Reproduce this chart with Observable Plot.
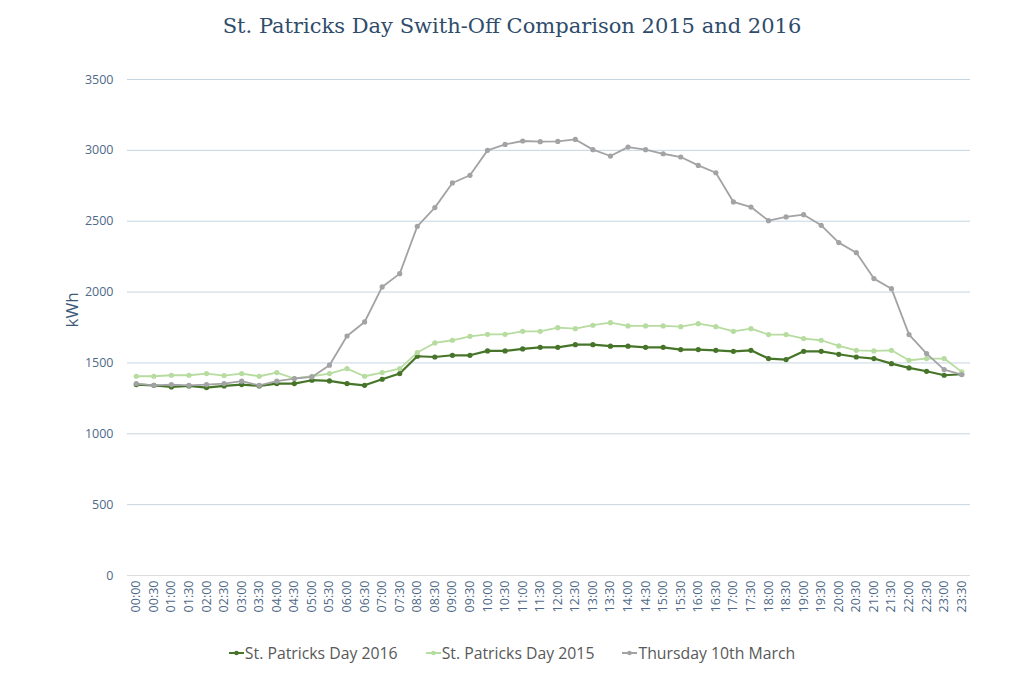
<!DOCTYPE html>
<html>
<head>
<meta charset="utf-8">
<script src="https://cdn.jsdelivr.net/npm/d3@7"></script>
<script src="https://cdn.jsdelivr.net/npm/@observablehq/plot@0.6"></script>
<style>
  body { margin: 0; background: #fff; font-family: "Open Sans", sans-serif; }
  #wrap { width: 1024px; height: 674px; position: relative; }
  #title { height: 52px; line-height: 52px; text-align: center; font-family: "DejaVu Serif", serif; font-size: 21px; color: #2f4c6b; }
  #legend { display: flex; justify-content: center; align-items: center; gap: 28px; font-size: 15.8px; color: #595959; margin-top: 22px; }
  #legend span.item { display: flex; align-items: center; }
  #legend svg { margin-right: 1px; }
</style>
</head>
<body>
<div id="wrap">
  <div id="title">St. Patricks Day Swith-Off Comparison 2015 and 2016</div>
  <div id="chart"></div>
  <div id="legend"></div>
</div>
<script>
const times = ["00:00","00:30","01:00","01:30","02:00","02:30","03:00","03:30","04:00","04:30","05:00","05:30","06:00","06:30","07:00","07:30","08:00","08:30","09:00","09:30","10:00","10:30","11:00","11:30","12:00","12:30","13:00","13:30","14:00","14:30","15:00","15:30","16:00","16:30","17:00","17:30","18:00","18:30","19:00","19:30","20:00","20:30","21:00","21:30","22:00","22:30","23:00","23:30"];

const seriesNames = ["St. Patricks Day 2016", "St. Patricks Day 2015", "Thursday 10th March"];
const seriesColors = ["#467529", "#b7dc9f", "#a3a3a6"];

const kwh2016 = [1347,1342,1331,1338,1326,1338,1347,1338,1354,1354,1378,1373,1354,1342,1385,1425,1547,1542,1554,1554,1585,1585,1599,1610,1610,1629,1629,1618,1618,1610,1610,1594,1594,1589,1582,1589,1531,1524,1582,1582,1561,1542,1531,1495,1465,1441,1413,1420];
const kwh2015 = [1406,1406,1413,1413,1425,1411,1425,1406,1432,1390,1406,1425,1460,1406,1432,1460,1573,1641,1660,1688,1702,1702,1723,1723,1749,1742,1766,1784,1761,1761,1761,1756,1777,1756,1723,1742,1700,1700,1672,1660,1620,1589,1585,1589,1519,1531,1531,1437];
const thursday = [1354,1342,1347,1342,1347,1354,1371,1342,1371,1390,1401,1484,1690,1789,2036,2130,2464,2596,2770,2824,3000,3042,3066,3061,3063,3077,3005,2960,3023,3005,2976,2953,2894,2842,2636,2600,2504,2530,2546,2471,2349,2278,2095,2024,1700,1566,1453,1418];

const yTicks = [0,500,1000,1500,2000,2500,3000,3500];

const allSeries = [kwh2016, kwh2015, thursday];
const data = [];
allSeries.forEach((vals, s) => vals.forEach((v, i) => data.push({time: times[i], kwh: v, series: seriesNames[s]})));

const widths = {"St. Patricks Day 2016": 2.2, "St. Patricks Day 2015": 1.8, "Thursday 10th March": 1.8};

const marks = [
  Plot.ruleY(yTicks.filter(d => d > 0), {stroke: "#c6d5e0", strokeWidth: 1}),
  Plot.ruleY([0], {stroke: "#dcdcdc", strokeWidth: 1}),
];
seriesNames.forEach((name, s) => {
  const sub = data.filter(d => d.series === name);
  marks.push(Plot.line(sub, {x: "time", y: "kwh", stroke: seriesColors[s], strokeWidth: widths[name]}));
  marks.push(Plot.dot(sub, {x: "time", y: "kwh", fill: seriesColors[s], r: 2.6}));
});
marks.push(Plot.axisX({tickRotate: -90, tickSize: 0, tickPadding: 5, label: null, fontSize: 12.5, color: "#4f6a88"}));
marks.push(Plot.axisY({ticks: yTicks, tickSize: 0, tickPadding: 14, label: null, fontSize: 12.5, color: "#4f6a88", tickFormat: d => String(d)}));
marks.push(Plot.text(["kWh"], {frameAnchor: "left", dx: -55, rotate: -90, fontSize: 17, fill: "#3c5a78"}));

const chart = Plot.plot({
  width: 1024,
  height: 568,
  marginTop: 27,
  marginBottom: 45,
  marginLeft: 127,
  marginRight: 54,
  style: {fontFamily: "Open Sans, sans-serif", background: "#fff"},
  x: {type: "point", domain: times, padding: 0.5, round: false},
  y: {domain: [0, 3500]},
  marks
});
document.getElementById("chart").appendChild(chart);

const legend = document.getElementById("legend");
seriesNames.forEach((name, s) => {
  const item = document.createElement("span");
  item.className = "item";
  item.innerHTML = `<svg width="15" height="10"><line x1="0" x2="15" y1="5" y2="5" stroke="${seriesColors[s]}" stroke-width="2"/><circle cx="7.5" cy="5" r="2.3" fill="${seriesColors[s]}"/></svg>${name}`;
  legend.appendChild(item);
});
</script>
</body>
</html>
